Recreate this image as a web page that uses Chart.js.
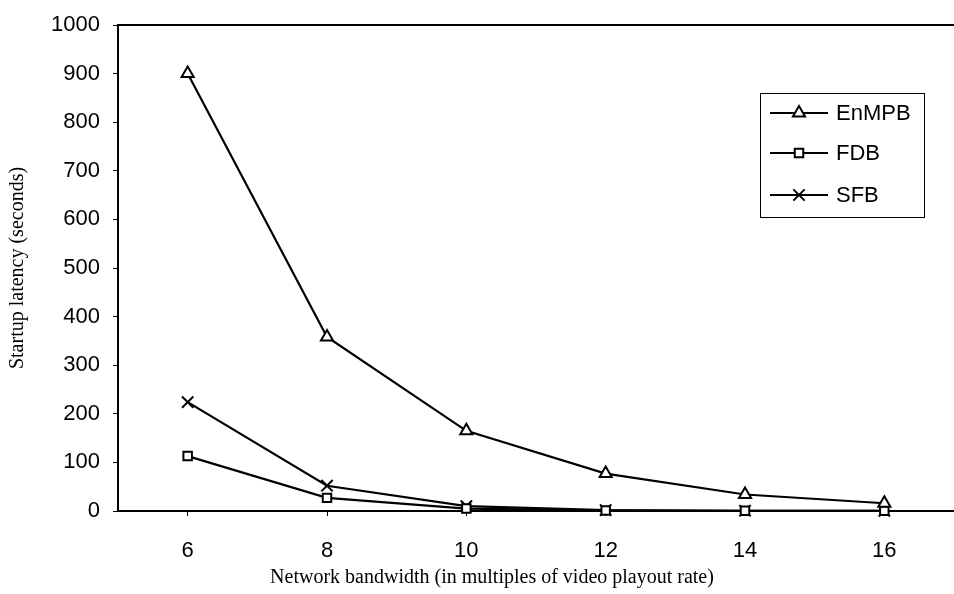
<!DOCTYPE html>
<html>
<head>
<meta charset="utf-8">
<title>Startup latency</title>
<script src="https://cdn.jsdelivr.net/npm/chart.js@4.4.1/dist/chart.umd.min.js"></script>
<style>
  html, body { margin: 0; padding: 0; background: #fff; overflow: hidden; }
  canvas { display: block; }
</style>
</head>
<body>
<canvas id="latencyChart" width="954" height="594"></canvas>
<script>
// --- Data ---
const bandwidths = ['6', '8', '10', '12', '14', '16'];
const enmpbValues = [900, 358, 165, 77, 34, 16];
const fdbValues = [113, 27, 5, 1, 0.5, 0.3];
const sfbValues = [224, 52, 10, 2, 0.5, 0.3];
const yTicks = [0, 100, 200, 300, 400, 500, 600, 700, 800, 900, 1000];

const xTitle = 'Network bandwidth (in multiples of video playout rate)';
const yTitle = 'Startup latency (seconds)';

const sansFont = '"Liberation Sans", Arial, sans-serif';
const serifFont = '"Liberation Serif", "Times New Roman", serif';

// --- Legend box, top frame and x title, drawn by hand ---
const extrasPlugin = {
    id: 'extras',
    afterDraw(chart) {
        const ctx = chart.ctx;
        const area = chart.chartArea;
        ctx.save();

        // top frame line
        ctx.strokeStyle = '#000';
        ctx.lineWidth = 2;
        ctx.beginPath();
        ctx.moveTo(area.left, area.top);
        ctx.lineTo(chart.width, area.top);
        ctx.stroke();

        // x axis title
        ctx.fillStyle = '#000';
        ctx.font = '20px ' + serifFont;
        ctx.textAlign = 'center';
        ctx.textBaseline = 'middle';
        ctx.fillText(xTitle, 492, 578);

        // legend
        ctx.lineWidth = 1;
        ctx.strokeRect(760.5, 93.5, 164, 124);
        const rows = [113, 153, 195];
        chart.data.datasets.forEach((ds, i) => {
            const y = rows[i];
            ctx.lineWidth = 2;
            ctx.strokeStyle = '#000';
            ctx.beginPath();
            ctx.moveTo(770, y);
            ctx.lineTo(828, y);
            ctx.stroke();
            ctx.fillStyle = '#fff';
            Chart.helpers.drawPoint(ctx, {
                pointStyle: ds.pointStyle,
                radius: ds.pointRadius,
                borderWidth: 2,
                rotation: 0
            }, 799, y);
            ctx.fillStyle = '#000';
            ctx.font = '22px ' + sansFont;
            ctx.textAlign = 'left';
            ctx.textBaseline = 'middle';
            ctx.fillText(ds.label, 836, y + 1);
        });
        ctx.restore();
    }
};

function makeSeries(label, values, style, radius) {
    return {
        label: label,
        data: values,
        borderColor: '#000',
        borderWidth: 2.2,
        pointStyle: style,
        pointRadius: radius,
        pointBorderWidth: 2,
        pointBackgroundColor: '#fff',
        pointBorderColor: '#000',
        tension: 0,
        clip: false
    };
}

const ctx = document.getElementById('latencyChart').getContext('2d');
new Chart(ctx, {
    type: 'line',
    data: {
        labels: bandwidths,
        datasets: [
            makeSeries('EnMPB', enmpbValues, 'triangle', 7),
            makeSeries('FDB', fdbValues, 'rect', 6),
            makeSeries('SFB', sfbValues, 'crossRot', 8)
        ]
    },
    options: {
        responsive: false,
        animation: false,
        layout: { autoPadding: false, padding: { left: 6, right: 0, top: 25, bottom: 0 } },
        plugins: {
            legend: { display: false },
            tooltip: { enabled: false }
        },
        scales: {
            x: {
                offset: true,
                grid: { drawOnChartArea: false, drawTicks: true, tickLength: 5, color: '#000', lineWidth: 1 },
                border: { color: '#000', width: 2 },
                ticks: { color: '#000', font: { family: sansFont, size: 22 }, padding: 22, maxRotation: 0 },
                afterFit(scale) {
                    scale.height = 594 - 511;
                    scale.paddingLeft = 0;
                    scale.paddingRight = 0;
                }
            },
            y: {
                min: 0,
                max: 1000,
                afterBuildTicks(scale) { scale.ticks = yTicks.map(v => ({ value: v })); },
                grid: { drawOnChartArea: false, drawTicks: true, tickLength: 5, color: '#000', lineWidth: 1 },
                border: { color: '#000', width: 2 },
                ticks: {
                    color: '#000',
                    font: { family: sansFont, size: 22 },
                    padding: 13,
                    callback: v => String(v)
                },
                title: {
                    display: true,
                    text: yTitle,
                    color: '#000',
                    font: { family: serifFont, size: 20 },
                    padding: { top: 0, bottom: 0 }
                },
                afterFit(scale) {
                    scale.width = 118 - 6;
                    scale.paddingTop = 0;
                    scale.paddingBottom = 0;
                }
            }
        }
    },
    plugins: [extrasPlugin]
});
</script>
</body>
</html>
